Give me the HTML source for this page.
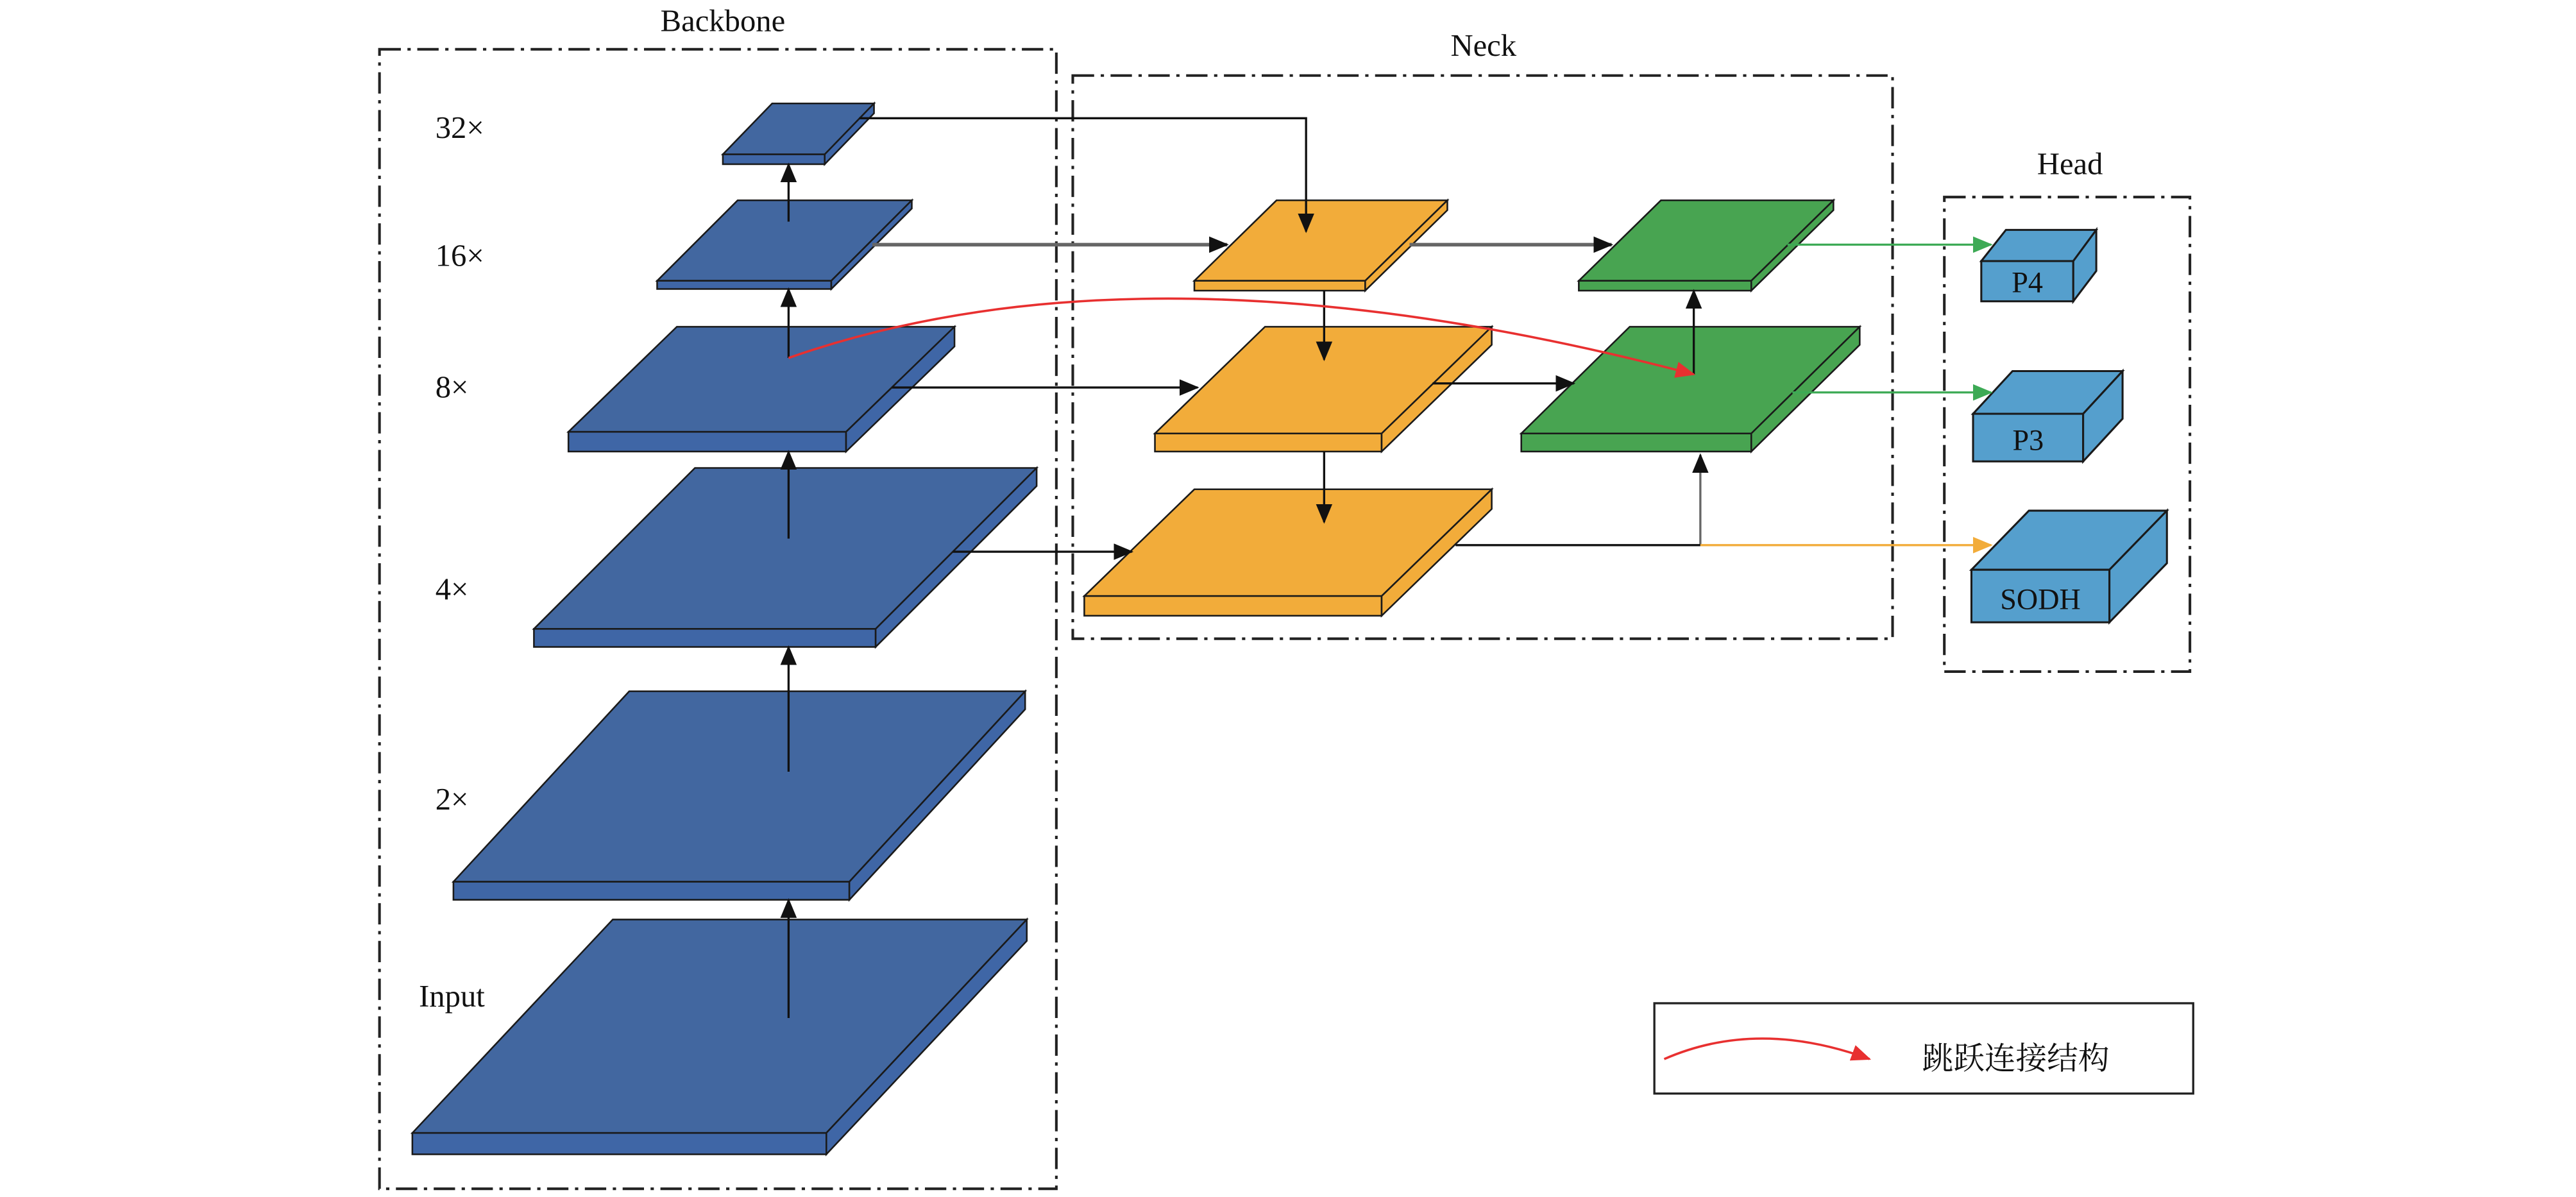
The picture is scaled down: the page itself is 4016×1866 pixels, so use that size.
<!DOCTYPE html>
<html><head><meta charset="utf-8"><style>
html,body{margin:0;padding:0;background:#fff;}
svg{display:block;}
text{font-family:"Liberation Serif","Noto Serif CJK SC","Noto Sans CJK SC",serif;fill:#111;}
</style></head><body>
<svg width="4016" height="1866" viewBox="0 0 1568 729" preserveAspectRatio="none" xmlns="http://www.w3.org/2000/svg">
<defs>
<marker id="ab" markerUnits="userSpaceOnUse" markerWidth="12" markerHeight="10" refX="11" refY="5" orient="auto"><path d="M0,0 L12,5 L0,10 Z" fill="#111"/></marker>
<marker id="ag" markerUnits="userSpaceOnUse" markerWidth="12" markerHeight="10" refX="11" refY="5" orient="auto"><path d="M0,0 L12,5 L0,10 Z" fill="#3daa55"/></marker>
<marker id="ao" markerUnits="userSpaceOnUse" markerWidth="12" markerHeight="10" refX="11" refY="5" orient="auto"><path d="M0,0 L12,5 L0,10 Z" fill="#f2ac3a"/></marker>
<marker id="ar" markerUnits="userSpaceOnUse" markerWidth="12" markerHeight="10" refX="11" refY="5" orient="auto"><path d="M0,0 L12,5 L0,10 Z" fill="#e83030"/></marker>
</defs>
<g fill="none" stroke="#222" stroke-width="1.6" stroke-dasharray="13,4,2,4">
<rect x="231" y="30" width="412" height="694"/>
<rect x="653" y="46" width="499" height="343"/>
<rect x="1183.5" y="120" width="149.5" height="289"/>
</g>
<rect x="1007" y="611" width="328" height="55" fill="none" stroke="#222" stroke-width="1.3"/>
<text x="440" y="19" font-size="19" text-anchor="middle">Backbone</text>
<text x="903" y="34" font-size="19" text-anchor="middle">Neck</text>
<text x="1260" y="106" font-size="19" text-anchor="middle">Head</text>
<g font-size="19">
<text x="265" y="84">32×</text><text x="265" y="162">16×</text><text x="265" y="242">8×</text>
<text x="265" y="365">4×</text><text x="265" y="493">2×</text><text x="255" y="613">Input</text>
</g>
<!-- blue slabs -->
<g stroke="#1a1a1a" stroke-width="1" fill="#4267a0">
<polygon points="440,94 502,94 532,63 470,63"/><rect x="440" y="94" width="62" height="6" fill="#3f66a6"/><polygon points="502,94 532,63 532,69 502,100" fill="#3f66a6"/>
<polygon points="400,171 506,171 555,122 449,122"/><rect x="400" y="171" width="106" height="5" fill="#3f66a6"/><polygon points="506,171 555,122 555,127 506,176" fill="#3f66a6"/>
<polygon points="346,263 515,263 581,199 412,199"/><rect x="346" y="263" width="169" height="12" fill="#3f66a6"/><polygon points="515,263 581,199 581,211 515,275" fill="#3f66a6"/>
<polygon points="325,383 533,383 631,285 423,285"/><rect x="325" y="383" width="208" height="11" fill="#3f66a6"/><polygon points="533,383 631,285 631,296 533,394" fill="#3f66a6"/>
<polygon points="276,537 517,537 624,421 383,421"/><rect x="276" y="537" width="241" height="11" fill="#3f66a6"/><polygon points="517,537 624,421 624,432 517,548" fill="#3f66a6"/>
<polygon points="251,690 503,690 625,560 373,560"/><rect x="251" y="690" width="252" height="13" fill="#3f66a6"/><polygon points="503,690 625,560 625,573 503,703" fill="#3f66a6"/>
</g>
<!-- orange -->
<g stroke="#1a1a1a" stroke-width="1" fill="#f2ac3a">
<polygon points="727,171 831,171 881,122 777,122"/><rect x="727" y="171" width="104" height="6"/><polygon points="831,171 881,122 881,128 831,177"/>
<polygon points="703,264 841,264 908,199 770,199"/><rect x="703" y="264" width="138" height="11"/><polygon points="841,264 908,199 908,210 841,275"/>
<polygon points="660,363 841,363 908,298 727,298"/><rect x="660" y="363" width="181" height="12"/><polygon points="841,363 908,298 908,310 841,375"/>
</g>
<g stroke="#1a1a1a" stroke-width="1" fill="#48a451">
<polygon points="961,171 1066,171 1116,122 1011,122"/><rect x="961" y="171" width="105" height="6"/><polygon points="1066,171 1116,122 1116,128 1066,177"/>
<polygon points="926,264 1066,264 1132,199 992,199"/><rect x="926" y="264" width="140" height="11"/><polygon points="1066,264 1132,199 1132,210 1066,275"/>
</g>
<!-- head boxes -->
<g stroke="#1a1a1a" stroke-width="1.2" fill="#559fcd">
<polygon points="1206,159 1221,140 1276,140 1262,159"/><rect x="1206" y="159" width="56" height="24.5"/><polygon points="1262,159 1276,140 1276,165 1262,183.5"/>
<polygon points="1201,252 1225,226 1292,226 1268,252"/><rect x="1201" y="252" width="67" height="29"/><polygon points="1268,252 1292,226 1292,255 1268,281"/>
<polygon points="1200,347 1235,311 1319,311 1284,347"/><rect x="1200" y="347" width="84" height="32"/><polygon points="1284,347 1319,311 1319,343 1284,379"/>
</g>
<g font-size="18" text-anchor="middle">
<text x="1234" y="178">P4</text><text x="1234.5" y="274">P3</text><text x="1242" y="371">SODH</text>
</g>
<!-- connectors -->
<g fill="none" stroke="#111" stroke-width="1.3" marker-end="url(#ab)">
<path d="M480,620 V548"/><path d="M480,470 V394"/><path d="M480,328 V275"/><path d="M480,218 V176"/><path d="M480,135 V100"/>
<path d="M523,72 H795 V141"/>
<path d="M531,149 H747" stroke="#666" stroke-width="2.2"/>
<path d="M858,149 H981" stroke="#666" stroke-width="2.2"/>
<path d="M806,177 V219"/>
<path d="M543,236 H729"/>
<path d="M872,233.5 H958"/>
<path d="M806,275 V318"/>
<path d="M580,336 H689"/>
<path d="M1035,332 V277" stroke="#666"/>
<path d="M1031,228 V177"/>
</g>
<path d="M886,332 H1035" stroke="#111" stroke-width="1.3"/>
<path d="M1035,332 H1212" stroke="#f2ac3a" stroke-width="1.3" marker-end="url(#ao)"/>
<path d="M1088,149 H1212" stroke="#3daa55" stroke-width="1.3" marker-end="url(#ag)"/>
<path d="M1091,239 H1212" stroke="#3daa55" stroke-width="1.3" marker-end="url(#ag)"/>
<path d="M480,218 Q700,141 1031,228" fill="none" stroke="#e83030" stroke-width="1.4" marker-end="url(#ar)"/>
<path d="M1013,645 Q1070,620 1138,645" fill="none" stroke="#e83030" stroke-width="1.4" marker-end="url(#ar)"/>
<text x="1170" y="651" font-size="19" style="font-family:'Liberation Serif','Noto Serif CJK SC',serif">跳跃连接结构</text>
</svg>
</body></html>
